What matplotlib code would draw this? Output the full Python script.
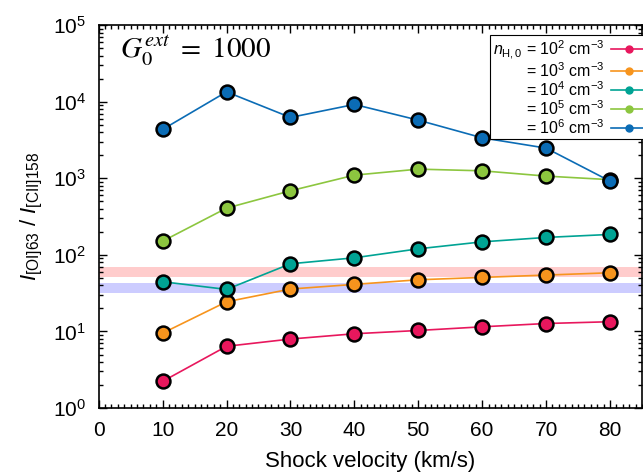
import numpy as np
import matplotlib
matplotlib.use('Agg')
import matplotlib.pyplot as plt
from matplotlib.ticker import MultipleLocator, LogLocator, NullFormatter

plt.rcParams['font.family'] = ['Liberation Sans', 'DejaVu Sans']
plt.rcParams['mathtext.fontset'] = 'custom'
plt.rcParams['mathtext.rm'] = 'Liberation Sans'
plt.rcParams['mathtext.it'] = 'Liberation Sans:italic'
plt.rcParams['mathtext.bf'] = 'Liberation Sans:bold'

# shock velocities (km/s)
vs = [10, 20, 30, 40, 50, 60, 70, 80]

# [OI]63 / [CII]158 ratio for each pre-shock density
ratio_1e2 = [2.23, 6.4, 7.96, 9.33, 10.3, 11.5, 12.7, 13.4]
ratio_1e3 = [9.5, 24.4, 35.8, 41.2, 47.3, 50.8, 54.5, 58.4]
ratio_1e4 = [44.6, 35.4, 76.5, 91.6, 120, 148, 169, 185]
ratio_1e5 = [151, 408, 687, 1100, 1318, 1253, 1069, 960]
ratio_1e6 = [4350, 13460, 6240, 9220, 5750, 3380, 2480, 919]

series = [ratio_1e2, ratio_1e3, ratio_1e4, ratio_1e5, ratio_1e6]
colors = ['#e8175d', '#f7941d', '#00a394', '#8cc63f', '#0b6cb5']
labels = [r'$n_{\rm H,0}$ = 10$^2$ cm$^{-3}$',
          r'= 10$^3$ cm$^{-3}$',
          r'= 10$^4$ cm$^{-3}$',
          r'= 10$^5$ cm$^{-3}$',
          r'= 10$^6$ cm$^{-3}$']

# observed ratio ranges
obs_red = (51.8, 70.0)
obs_blue = (32.0, 43.2)

fig = plt.figure(figsize=(6.43, 4.75), dpi=100)
ax = fig.add_axes([0.1535, 0.141, 0.8449, 0.806])

ax.axhspan(obs_red[0], obs_red[1], color='red', alpha=0.2, lw=0, zorder=1)
ax.axhspan(obs_blue[0], obs_blue[1], color='blue', alpha=0.2, lw=0, zorder=1)

for y, c, lab in zip(series, colors, labels):
    ax.plot(vs, y, '-', color=c, lw=1.2, zorder=2)
    ax.plot(vs, y, 'o', color=c, ms=10, mec='black', mew=1.8, zorder=3)
    # legend proxy: thin line with a small dot
    ax.plot([], [], '-o', color=c, lw=1.2, ms=5, mec=c, label=lab)

ax.set_yscale('log')
ax.set_xlim(0, 85)
ax.set_ylim(1, 1e5)

ax.xaxis.set_major_locator(MultipleLocator(10))
ax.xaxis.set_minor_locator(MultipleLocator(1))
ax.yaxis.set_major_locator(LogLocator(base=10, numticks=10))
ax.yaxis.set_minor_locator(LogLocator(base=10, subs=np.arange(2, 10), numticks=20))
ax.yaxis.set_minor_formatter(NullFormatter())

ax.tick_params(which='both', direction='in', top=True, right=True, labelsize=15, width=1.0)
ax.tick_params(which='major', length=6, pad=9)
ax.tick_params(which='minor', length=3)
for sp in ax.spines.values():
    sp.set_linewidth(1.2)

ax.set_xlabel('Shock velocity (km/s)', fontsize=16, labelpad=8)
ax.set_ylabel(r'$I_{\rm [OI]63}$ / $I_{\rm [CII]158}$', fontsize=16, labelpad=6)

ax.text(0.039, 0.914, r'$G_0^{ext}\ =\ 1000$', transform=ax.transAxes,
        fontsize=21, math_fontfamily='stix', va='baseline', ha='left')

leg = ax.legend(loc='upper right', bbox_to_anchor=(1.012, 0.974), markerfirst=False,
                fontsize=11.5, handlelength=2.2, handletextpad=0.4, labelspacing=0.02,
                borderpad=0.15, borderaxespad=0, fancybox=False, framealpha=1,
                edgecolor='black')
leg.get_frame().set_linewidth(0.8)

fig.savefig('out.png', dpi=100)
